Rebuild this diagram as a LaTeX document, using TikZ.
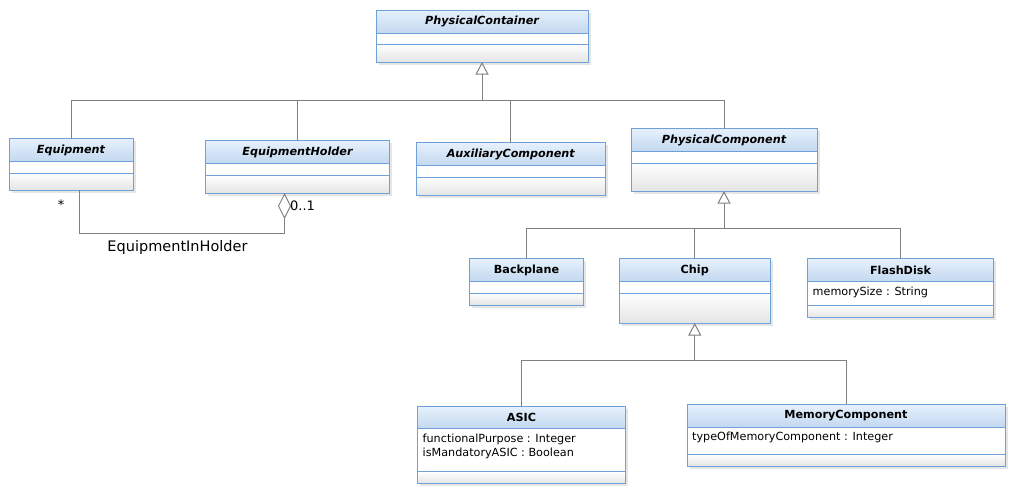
\documentclass[tikz,border=0pt]{standalone}
\usepackage{fontspec}
\setmainfont{DejaVu Sans}
\usepackage{tikz}
\usetikzlibrary{arrows.meta,shadows,positioning}
\definecolor{cborder}{RGB}{110,160,218}
\definecolor{hdtop}{RGB}{230,241,252}
\definecolor{hdbot}{RGB}{195,216,240}
\definecolor{opsbot}{RGB}{228,228,228}
\definecolor{lgray}{RGB}{128,128,128}
\tikzstyle{cshadow}=[drop shadow={shadow xshift=2.5pt,shadow yshift=-2.5pt,opacity=.2}]
\tikzstyle{chead}=[draw=cborder,line width=1pt,top color=hdtop,bottom color=hdbot,cshadow,minimum height=23pt,inner sep=0pt,outer sep=0pt,anchor=north west,font=\fontsize{11.2}{13}\selectfont\bfseries]
\tikzstyle{cattr}=[draw=cborder,line width=1pt,fill=white,cshadow,inner sep=0pt,outer sep=0pt,anchor=north]
\tikzstyle{cops}=[draw=cborder,line width=1pt,top color=white,bottom color=opsbot,cshadow,inner sep=0pt,outer sep=0pt,anchor=north]
\tikzstyle{atext}=[anchor=north west,align=left,inner sep=0pt,font=\fontsize{11.2}{14}\selectfont]
\tikzstyle{genline}=[draw=lgray,line width=1pt]
\tikzstyle{gen}=[genline,-{Triangle[open,length=12.5pt,width=13pt]}]
\tikzstyle{assoc}=[genline,-{Diamond[open,length=26pt,width=13pt]}]
\tikzstyle{mult}=[font=\fontsize{13}{15}\selectfont,inner sep=0pt]

\begin{document}
\begin{tikzpicture}[x=1pt,y=-1pt]

  \useasboundingbox (0,0) rectangle (1019,498);

  % classes
  \node[chead,minimum width=212pt] (pc) at (376,10) {\itshape PhysicalContainer};
  \node[cattr,minimum width=212pt,minimum height=11.5pt] (pc-a) at (pc.south) {};
  \node[cops,minimum width=212pt,minimum height=17.5pt] (pc-o) at (pc-a.south) {};

  \node[chead,minimum width=124pt] (eq) at (9,138.5) {\itshape Equipment};
  \node[cattr,minimum width=124pt,minimum height=11.5pt] (eq-a) at (eq.south) {};
  \node[cops,minimum width=124pt,minimum height=17pt] (eq-o) at (eq-a.south) {};

  \node[chead,minimum width=184pt] (eh) at (205.5,140.5) {\itshape EquipmentHolder};
  \node[cattr,minimum width=184pt,minimum height=11.5pt] (eh-a) at (eh.south) {};
  \node[cops,minimum width=184pt,minimum height=18pt] (eh-o) at (eh-a.south) {};

  \node[chead,minimum width=189.5pt] (aux) at (416,142.5) {\itshape AuxiliaryComponent};
  \node[cattr,minimum width=189.5pt,minimum height=11.5pt] (aux-a) at (aux.south) {};
  \node[cops,minimum width=189.5pt,minimum height=18pt] (aux-o) at (aux-a.south) {};

  \node[chead,minimum width=186pt] (phc) at (631,128.5) {\itshape PhysicalComponent};
  \node[cattr,minimum width=186pt,minimum height=11.5pt] (phc-a) at (phc.south) {};
  \node[cops,minimum width=186pt,minimum height=28pt] (phc-o) at (phc-a.south) {};

  \node[chead,minimum width=114pt] (bp) at (469.5,258.5) {Backplane};
  \node[cattr,minimum width=114pt,minimum height=11.5pt] (bp-a) at (bp.south) {};
  \node[cops,minimum width=114pt,minimum height=12pt] (bp-o) at (bp-a.south) {};

  \node[chead,minimum width=151.5pt] (chip) at (619,258.5) {Chip};
  \node[cattr,minimum width=151.5pt,minimum height=11.5pt] (chip-a) at (chip.south) {};
  \node[cops,minimum width=151.5pt,minimum height=30pt] (chip-o) at (chip-a.south) {};

  \node[chead,minimum width=186pt] (fd) at (807.5,258.5) {FlashDisk};
  \node[cattr,minimum width=186pt,minimum height=23.5pt] (fd-a) at (fd.south) {};
  \node[cops,minimum width=186pt,minimum height=12.5pt] (fd-o) at (fd-a.south) {};

  \node[chead,minimum width=208pt,minimum height=22pt] (asic) at (417.5,406.5) {ASIC};
  \node[cattr,minimum width=208pt,minimum height=43pt] (asic-a) at (asic.south) {};
  \node[cops,minimum width=208pt,minimum height=12pt] (asic-o) at (asic-a.south) {};

  \node[chead,minimum width=318pt] (mc) at (687,404) {MemoryComponent};
  \node[cattr,minimum width=318pt,minimum height=27.5pt] (mc-a) at (mc.south) {};
  \node[cops,minimum width=318pt,minimum height=11.5pt] (mc-o) at (mc-a.south) {};

  % attributes
  \node[atext] (fd-t) at ([xshift=5pt,yshift=-5pt]fd-a.north west) {memorySize : String};
  \node[atext] (asic-t) at ([xshift=5pt,yshift=-5.5pt]asic-a.north west) {functionalPurpose : Integer\\isMandatoryASIC : Boolean};
  \node[atext] (mc-t) at ([xshift=5pt,yshift=-4.5pt]mc-a.north west) {typeOfMemoryComponent : Integer};

  % generalizations
  \coordinate (pcj) at (482,100);
  \draw[genline] (eq.north) |- (pcj);
  \draw[genline] (eh.north) |- (pcj);
  \draw[genline] (aux.north) |- (pcj);
  \draw[genline] (phc.north) |- (pcj);
  \draw[gen] (pcj) -- (pc-o.south);

  \coordinate (phcj) at (724,228.5);
  \draw[genline] (bp.north) |- (phcj);
  \draw[genline] (chip.north) |- (phcj);
  \draw[genline] (fd.north) |- (phcj);
  \draw[gen] (phcj) -- (phc-o.south);

  \coordinate (chipj) at (694.75,360.5);
  \draw[genline] (asic.north) |- (chipj);
  \draw[genline] (mc.north) |- (chipj);
  \draw[gen] (chipj) -- (chip-o.south);

  % association
  \draw[assoc] ([xshift=8pt]eq-o.south) -- ++(0,43) -| ([xshift=-13pt]eh-o.south);
  \node[mult] (eq-m) at (61,205) {*};
  \node[mult,anchor=west] (eh-m) at (290,206) {0..1};
  \node[font=\fontsize{14.5}{16}\selectfont] (assoc-n) at (177.5,247) {EquipmentInHolder};

\end{tikzpicture}
\end{document}
